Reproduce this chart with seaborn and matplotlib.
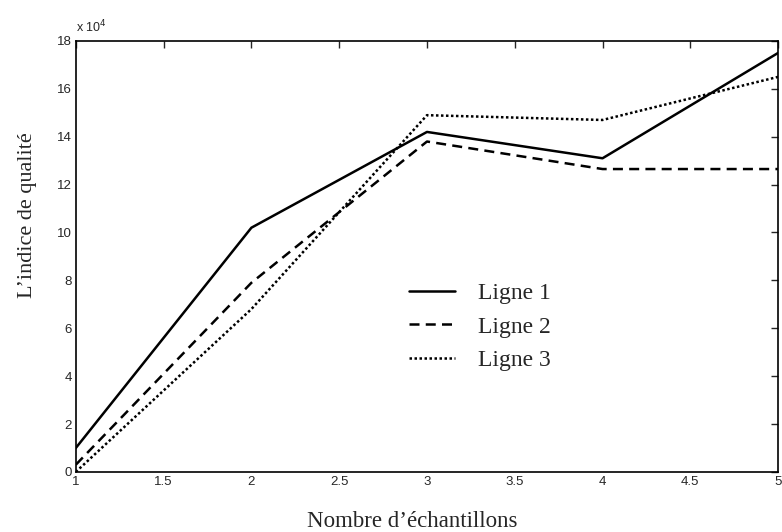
"""
quality index vs number of samples
"""

import seaborn as sns
import matplotlib.pyplot as plt
import matplotlib.ticker as mticker
import pandas as pd

samples = [1, 2, 3, 4, 5]
ligne_1 = [1.0e4, 10.2e4, 14.2e4, 13.1e4, 17.5e4]
ligne_2 = [0.3e4, 7.9e4, 13.8e4, 12.65e4, 12.65e4]
ligne_3 = [0.0e4, 6.8e4, 14.9e4, 14.7e4, 16.5e4]
series_names = ["Ligne 1", "Ligne 2", "Ligne 3"]

df = pd.DataFrame({
    "x": samples * 3,
    "y": ligne_1 + ligne_2 + ligne_3,
    "serie": [n for n in series_names for _ in samples],
})

sns.set_style("white")
plt.rcParams["font.family"] = ["Liberation Sans", "DejaVu Sans"]

fig = plt.figure(figsize=(7.82, 5.32), dpi=100)
ax = fig.add_axes([0.097, 0.113, 0.898, 0.81])

dashes = {"Ligne 1": "", "Ligne 2": (4, 2.5), "Ligne 3": (1, 1)}
sns.lineplot(data=df, x="x", y="y", style="serie", dashes=dashes,
             color="black", linewidth=1.8, ax=ax, legend=False)

handles = [plt.Line2D([], [], color="black", linewidth=1.8, linestyle="-"),
           plt.Line2D([], [], color="black", linewidth=1.8, dashes=(4, 2.5)),
           plt.Line2D([], [], color="black", linewidth=1.8, dashes=(1, 1))]
leg = ax.legend(handles, series_names, loc="upper left", bbox_to_anchor=(0.474, 0.44),
                frameon=False, borderpad=0, borderaxespad=0,
                handlelength=1.95, handletextpad=1.0, labelspacing=0.52,
                prop={"family": "Liberation Serif", "size": 17})

ax.set_xlim(1, 5)
ax.set_ylim(0, 18e4)
ax.set_xticks([1, 1.5, 2, 2.5, 3, 3.5, 4, 4.5, 5])
ax.xaxis.set_major_formatter(mticker.FuncFormatter(lambda v, p: f"{v:g}"))
ax.set_yticks([i * 2e4 for i in range(10)])
ax.yaxis.set_major_formatter(mticker.FuncFormatter(lambda v, p: f"{v / 1e4:g}"))
ax.tick_params(direction="in", length=5, width=1, top=True, right=True,
               labelsize=9.5, pad=3)
for s in ax.spines.values():
    s.set_linewidth(1.2)
    s.set_color("black")

ax.text(0.0, 1.012, r"x 10$^4$", transform=ax.transAxes, fontsize=9, ha="left", va="bottom")
ax.set_xlabel("Nombre d\u2019échantillons", family="Liberation Serif", fontsize=16.5)
ax.set_ylabel("L\u2019indice de qualité", family="Liberation Serif", fontsize=16)
ax.xaxis.set_label_coords(0.479, -0.09)
ax.yaxis.set_label_coords(-0.055, 0.596)

fig.savefig("out.png", dpi=100)
